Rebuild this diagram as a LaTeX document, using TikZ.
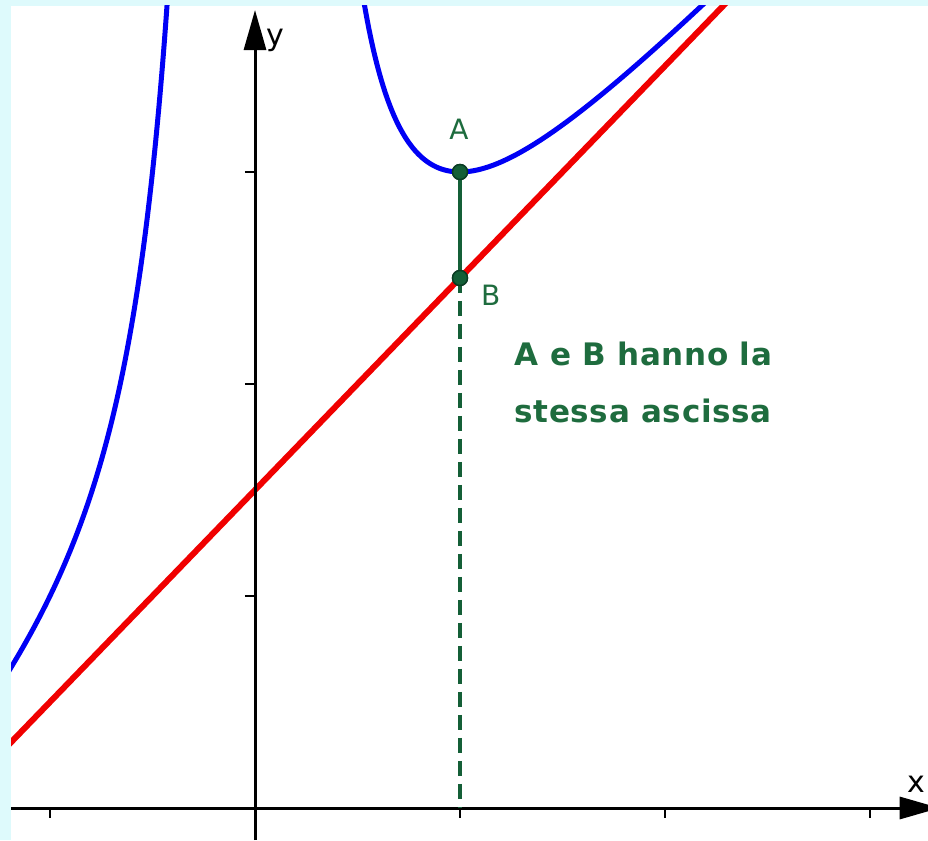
\documentclass[tikz,border=0pt]{standalone}
\usepackage{fontspec}
\setmainfont{DejaVu Sans}
\newfontfamily\notefont[LetterSpace=2]{DejaVu Sans}
\usetikzlibrary{arrows.meta}
\definecolor{bgcyan}{RGB}{222,250,252}
\definecolor{ptgreen}{RGB}{20,95,55}
\definecolor{ptedge}{RGB}{10,60,35}
\definecolor{txtgreen}{RGB}{30,108,62}
\definecolor{curveblue}{RGB}{0,0,245}
\definecolor{linered}{RGB}{240,0,0}
\begin{document}
\begin{tikzpicture}[x=1pt,y=1pt,
  axis/.style={line width=3pt,-{Triangle[length=40pt,width=22pt]}},
  axtick/.style={line width=2.8pt},
  curve/.style={line width=5pt,curveblue},
  redline/.style={line width=6pt,linered},
  seg/.style={line width=4pt,ptgreen},
  dashseg/.style={line width=4pt,ptgreen,dash pattern=on 15pt off 8pt},
  pt/.style={circle,fill=ptgreen,draw=ptedge,line width=1.4pt,inner sep=0pt,minimum size=15pt},
  ptlabel/.style={text=txtgreen,font=\fontsize{28}{30}\selectfont},
  axlabel/.style={text=black,font=\fontsize{30}{32}\selectfont},
  note/.style={text=txtgreen,font=\notefont\bfseries\fontsize{31}{57}\selectfont,align=left}
]
\useasboundingbox (0,0) rectangle (928,840);
\fill[bgcyan] (0,0) rectangle (928,840);
\fill[white] (11,0) rectangle (928,834);
\begin{scope}[shift={(255,32)},x=205pt,y=212pt]
  % curves, clipped to the white area
  \begin{scope}
    \clip (-1.19,-0.151) rectangle (3.283,3.783);
    \draw[redline] (-1.3,0.2) -- (2.4,3.9);
    \draw[curve,smooth] plot[domain=-1.25:-0.405,samples=150] (\x,{\x+1.5+0.5/(\x*\x)});
    \draw[curve,smooth] plot[domain=0.5:2.4,samples=150] (\x,{\x+1.5+0.5/(\x*\x)});
  \end{scope}
  % axes
  \coordinate (xs) at (-1.19,0);
  \coordinate (xe) at (3.34,0);
  \coordinate (ys) at (0,-0.151);
  \coordinate (ye) at (0,3.764);
  \draw[axis] (xs) -- (xe);
  \draw[axis] (ys) -- (ye);
  \foreach \t in {1,2,3} \draw[axtick] (-0.049,\t) -- (0,\t);
  \foreach \t in {-1,1,2,3} \draw[axtick] (\t,0) -- (\t,-0.047);
  \node[axlabel] (xl) at (3.225,0.11) {x};
  \node[axlabel] (yl) at (0.1,3.62) {y};
  % points
  \coordinate (F) at (1,0);
  \node[pt] (A) at (1,3) {};
  \node[pt] (B) at (1,2.5) {};
  \draw[dashseg] (B.center) -- (F);
  \draw[seg] (A.center) -- (B.center);
  \node[pt] at (A) {};
  \node[pt] at (B) {};
  \node[ptlabel] (Al) at (0.995,3.2) {A};
  \node[ptlabel] (Bl) at (1.15,2.42) {B};
  \node[note,anchor=west] (N) at (1.25,2.005) {A e B hanno la\\stessa ascissa};
\end{scope}
\end{tikzpicture}
\end{document}
